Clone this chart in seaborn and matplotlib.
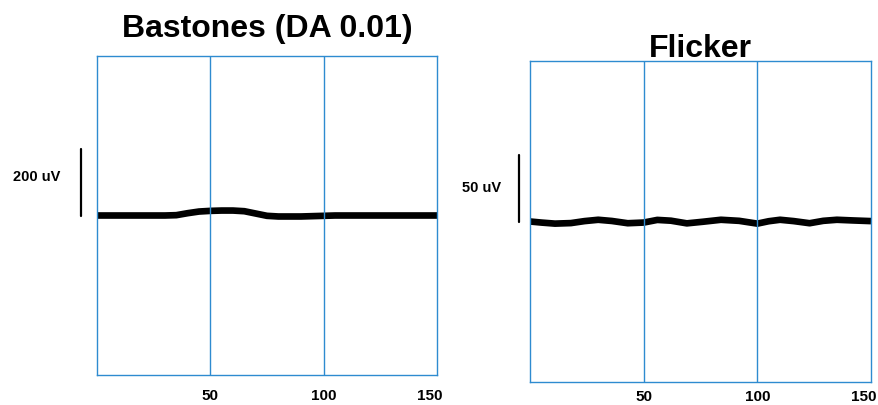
import numpy as np
import pandas as pd
import matplotlib
matplotlib.use("Agg")
import matplotlib.pyplot as plt
import matplotlib.transforms as mtransforms
import seaborn as sns

# ---- data ----
rod_time = [0, 5, 10, 15, 20, 25, 30, 35, 40, 45, 50, 55, 60, 65, 70, 75, 80, 85,
            90, 95, 100, 105, 110, 120, 130, 140, 150]
rod_uv = [0, 0, 0, 0, 0, 0, 0, 1, 7, 12, 14, 15, 15, 13, 6, -1, -3, -3,
          -3, -2, -1, 0, 0, 0, 0, 0, 0]

flk_time = [0, 5, 11, 18, 24, 30, 36, 43, 50, 56, 62, 69, 76, 84, 92, 100, 105,
            110, 116, 123, 129, 135, 142, 150]
flk_uv = [0, -0.8, -1.6, -1.2, 0.3, 1.3, 0.4, -1.3, -0.8, 1.2, 0.6, -1.4, -0.2,
          1.3, 0.5, -1.6, 0.2, 1.3, 0.3, -1.3, 0.5, 1.3, 0.8, 0.3]

titles = ["Bastones (DA 0.01)", "Flicker"]
scale_labels = ["200 uV", "50 uV"]
scale_sizes = [200, 50]
xticks = [50, 100, 150]
ylims = [(-483, 483), (-121, 121)]

sns.set_theme(style="white")
plt.rcParams['font.family'] = ['Liberation Sans', 'DejaVu Sans']
plt.rcParams['text.color'] = 'black'
plt.rcParams['xtick.color'] = 'black'

fig = plt.figure(figsize=(8.79, 4.05), dpi=100)
W, H = 879, 405
ax1 = fig.add_axes([97 / W, (H - 375) / H, 340 / W, 319 / H])
ax2 = fig.add_axes([530 / W, (H - 382) / H, 341 / W, 321 / H])

blue = "#2e8bd0"
axes = [ax1, ax2]
series = [(rod_time, rod_uv), (flk_time, flk_uv)]
bar_x = [-7.0, -4.8]
title_pads = [14, 3]
title_sizes = [23, 23]
tick_pads = [10, 6]

for i, ax in enumerate(axes):
    t, v = series[i]
    df = pd.DataFrame({"t": t, "v": v})
    sns.lineplot(data=df, x="t", y="v", ax=ax, color="black", linewidth=4.8,
                 solid_joinstyle="round", solid_capstyle="butt", zorder=2)
    ax.set_xlim(0, 150)
    ax.set_ylim(*ylims[i])
    ax.set_xlabel("")
    ax.set_ylabel("")
    ax.set_yticks([])
    ax.set_xticks(xticks)
    ax.set_xticklabels([str(x) for x in xticks], fontsize=11, fontweight="bold",
                       color="black")
    ax.tick_params(axis="x", length=0, pad=tick_pads[i])
    for s in ax.spines.values():
        s.set_color(blue)
        s.set_linewidth(1.0)
    for x in [50, 100]:
        ax.axvline(x, color=blue, linewidth=1.0, zorder=3)
    ax.set_title(titles[i], fontsize=title_sizes[i], fontweight="bold",
                 pad=title_pads[i], color="black")
    # scale bar
    ax.plot([bar_x[i], bar_x[i]], [0, scale_sizes[i]], color="black",
            linewidth=1.6, clip_on=False)
    # shift last tick label slightly left
    lbl = ax.get_xticklabels()[-1]
    lbl.set_transform(lbl.get_transform() +
                      mtransforms.ScaledTranslation(-7 / 100, 0, fig.dpi_scale_trans))

fig.text(60 / W, 1 - 177 / H, scale_labels[0], ha="right", va="center",
         fontsize=10.5, fontweight="bold")
fig.text(501 / W, 1 - 188 / H, scale_labels[1], ha="right", va="center",
         fontsize=10.5, fontweight="bold")

fig.savefig("out.png", dpi=100, facecolor="white")
